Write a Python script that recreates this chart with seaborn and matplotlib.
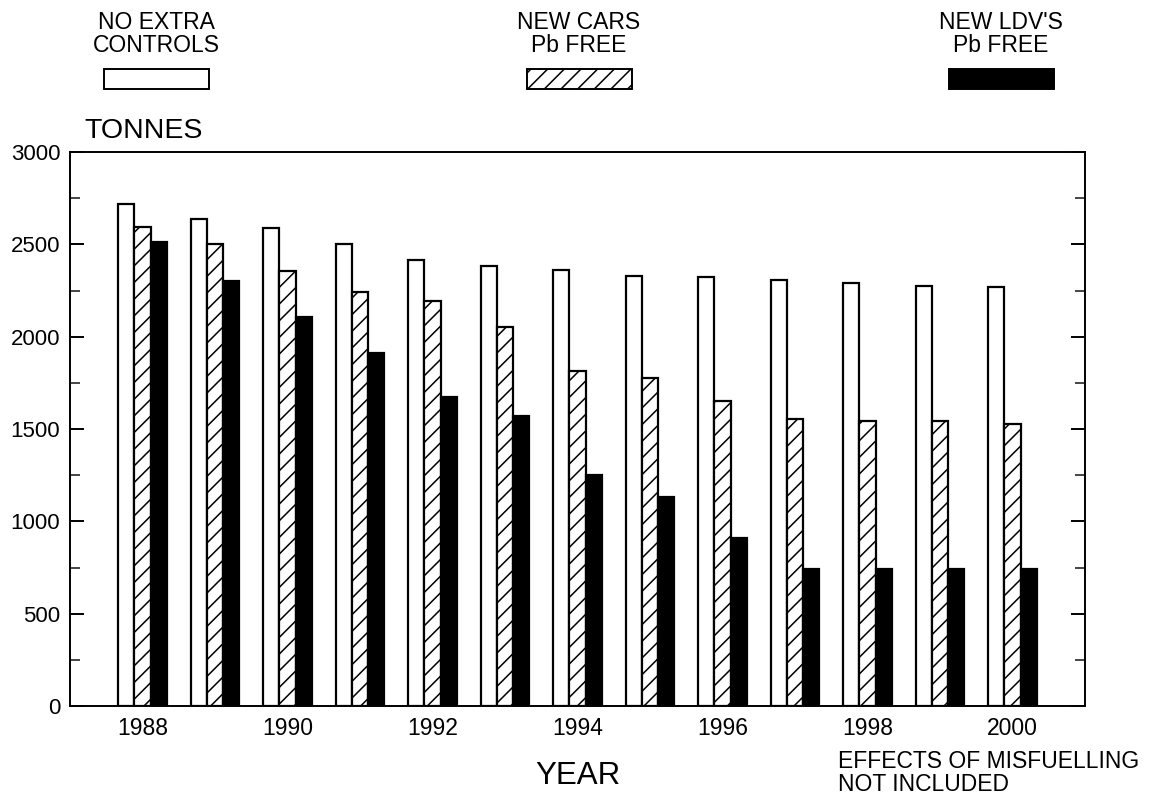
import matplotlib
matplotlib.use("Agg")
import matplotlib.pyplot as plt
from matplotlib.patches import Rectangle
from matplotlib.ticker import MultipleLocator
import numpy as np
import pandas as pd
import seaborn as sns

# Lead emissions (tonnes) under three control scenarios
years = [1988, 1989, 1990, 1991, 1992, 1993, 1994, 1995, 1996, 1997, 1998, 1999, 2000]
no_extra_controls = [2720, 2635, 2590, 2500, 2415, 2380, 2362, 2330, 2322, 2306, 2293, 2272, 2270]
new_cars_pb_free = [2592, 2500, 2355, 2241, 2193, 2052, 1815, 1776, 1651, 1554, 1545, 1545, 1525]
new_ldvs_pb_free = [2512, 2301, 2106, 1910, 1672, 1570, 1250, 1132, 910, 742, 742, 740, 740]
scenarios = ["NO EXTRA\nCONTROLS", "NEW CARS\nPb FREE", "NEW LDV'S\nPb FREE"]
tick_years = [1988, 1990, 1992, 1994, 1996, 1998, 2000]

df = pd.DataFrame({
    "year": [str(y) for y in years] * 3,
    "tonnes": no_extra_controls + new_cars_pb_free + new_ldvs_pb_free,
    "scenario": [s for s in scenarios for _ in years],
})

sns.set_style("white")
plt.rcParams["font.family"] = ["Liberation Sans", "DejaVu Sans"]
plt.rcParams["hatch.linewidth"] = 1.1

W, H = 1156, 797
fig = plt.figure(figsize=(W / 100, H / 100), dpi=100)
ax = fig.add_axes([70 / W, 1 - 706 / H, (1085 - 70) / W, (706 - 152) / H])

fills = ["white", "white", "black"]
sns.barplot(data=df, x="year", y="tonnes", hue="scenario", hue_order=scenarios,
            palette=fills, width=0.67, gap=0, edgecolor="black", linewidth=1.6,
            saturation=1, legend=False, ax=ax)

for bar in ax.containers[1]:
    bar.set_hatch("//")

ax.set_xlim(-1, len(years))
ax.set_ylim(0, 3000)
ax.yaxis.set_major_locator(MultipleLocator(500))
ax.yaxis.set_minor_locator(MultipleLocator(250))
ax.set_xticks([years.index(y) for y in tick_years])
ax.set_xticklabels([str(y) for y in tick_years])

for side in ["left", "right", "top", "bottom"]:
    ax.spines[side].set_visible(True)
    ax.spines[side].set_color("black")
    ax.spines[side].set_linewidth(1.4)

ax.tick_params(axis="y", which="major", direction="in", length=10, width=1.4,
               left=True, right=True, labelsize=16, pad=7, colors="black")
ax.tick_params(axis="y", which="minor", direction="in", length=7, width=1.2,
               left=True, right=True)
ax.tick_params(axis="x", which="major", direction="in", length=4, width=1.0,
               bottom=True, labelsize=16.5, pad=8, colors="black")

ax.set_xlabel("YEAR", fontsize=22.5, labelpad=15, color="black")
ax.set_ylabel("")

fig.text(84 / W, 1 - 131 / H, "TONNES", fontsize=20.5, ha="left", va="center", color="black")
fig.text(838 / W, 1 - 750 / H, "EFFECTS OF MISFUELLING\nNOT INCLUDED", fontsize=16.5,
         ha="left", va="top", linespacing=1.0, color="black")

# Scenario key across the top
key_centers = [156, 579, 1001]
key_hatches = [None, "//", None]
for label, cx, fc, hatch in zip(scenarios, key_centers, fills, key_hatches):
    fig.text(cx / W, 1 - 34 / H, label, fontsize=16.5, ha="center", va="center",
             linespacing=1.05, color="black")
    fig.add_artist(Rectangle(((cx - 52) / W, 1 - 89 / H), 105 / W, 20 / H,
                             transform=fig.transFigure, facecolor=fc,
                             edgecolor="black", linewidth=1.4, hatch=hatch))

fig.savefig("out.png", dpi=100, facecolor="white")
